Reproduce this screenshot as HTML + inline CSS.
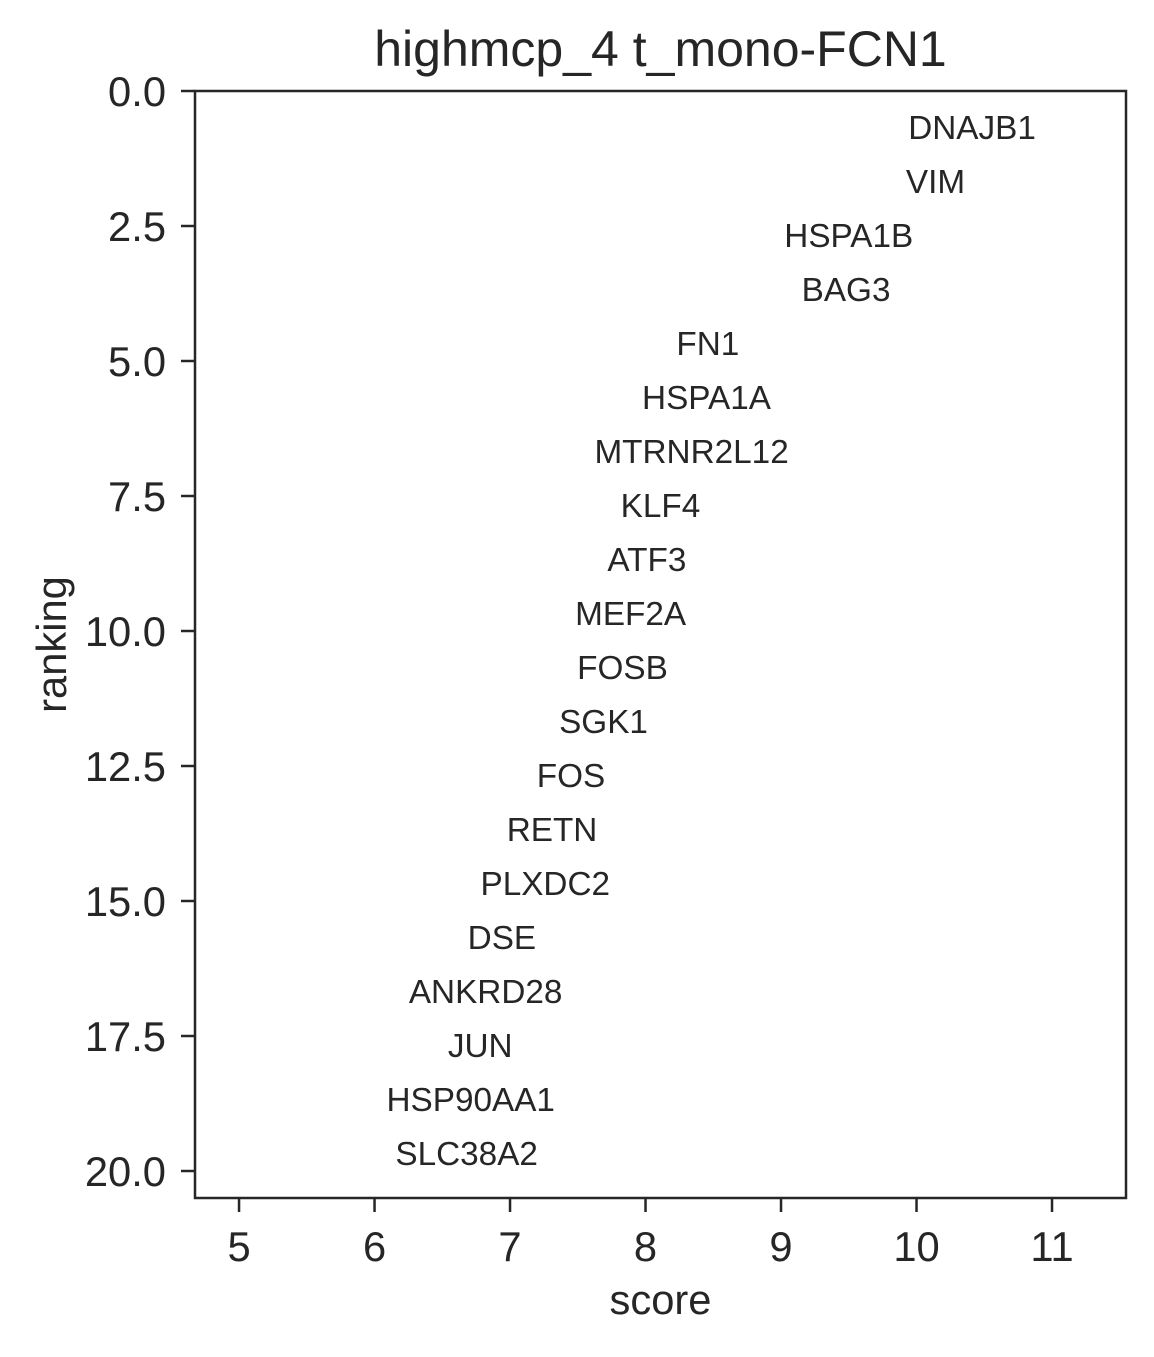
<!DOCTYPE html>
<html><head><meta charset="utf-8"><style>
body{margin:0;background:#fff;}
svg text{font-family:"Liberation Sans",Arial,sans-serif;fill:#262626;}
</style></head><body>
<svg width="1154" height="1352" xmlns="http://www.w3.org/2000/svg">
<g id="plot"></g>
</svg>
<script>
const genes=["DNAJB1","VIM","HSPA1B","BAG3","FN1","HSPA1A","MTRNR2L12","KLF4","ATF3","MEF2A","FOSB","SGK1","FOS","RETN","PLXDC2","DSE","ANKRD28","JUN","HSP90AA1","SLC38A2"];
const scores=[10.41,10.14,9.50,9.48,8.46,8.45,8.34,8.11,8.01,7.89,7.83,7.69,7.45,7.31,7.26,6.94,6.82,6.78,6.71,6.68];
const xTicks=[5,6,7,8,9,10,11];
const yTicks=[0,2.5,5,7.5,10,12.5,15,17.5,20];
const L=195,R=1126,T=91,B=1198;
const xMin=4.675,xMax=11.546,yMin=0,yMax=20.5;
const sx=v=>L+(v-xMin)/(xMax-xMin)*(R-L);
const sy=v=>T+(v-yMin)/(yMax-yMin)*(B-T);
const g=document.getElementById('plot');
const NS="http://www.w3.org/2000/svg";
function mk(tag,attrs,txt){const e=document.createElementNS(NS,tag);for(const k in attrs)e.setAttribute(k,attrs[k]);if(txt!==undefined)e.textContent=txt;g.appendChild(e);return e;}
let e=mk('rect',{x:L,y:T,width:R-L,height:B-T,fill:'none',stroke:'#262626','stroke-width':2.5});


xTicks.forEach(t=>{
 let l=mk('line',{x1:sx(t),x2:sx(t),y1:B,y2:B+14,stroke:'#262626','stroke-width':2.5});
 
 
 let s=mk('text',{x:sx(t),y:B+63,'font-size':41.7,'text-anchor':'middle'},String(t));
 
 
});
yTicks.forEach(t=>{
 let l=mk('line',{x1:L-14,x2:L,y1:sy(t),y2:sy(t),stroke:'#262626','stroke-width':2.5});
 
 
 let s=mk('text',{x:L-29,y:sy(t)+15,'font-size':41.7,'text-anchor':'end'},t.toFixed(1));
 
 
});
genes.forEach((n,i)=>{
 let s=mk('text',{x:sx(scores[i]),y:sy(i+1)-6,'font-size':33.3,'text-anchor':'middle'},n);
 
 
});
e=mk('text',{x:(L+R)/2,y:66,'font-size':50,'text-anchor':'middle'},'highmcp_4 t_mono-FCN1');


e=mk('text',{x:(L+R)/2,y:1314,'font-size':41.7,'text-anchor':'middle'},'score');


e=mk('text',{x:0,y:0,'font-size':41.7,'text-anchor':'middle',transform:'translate(66,'+((T+B)/2)+') rotate(-90)'},'ranking');


</script>
</body></html>
